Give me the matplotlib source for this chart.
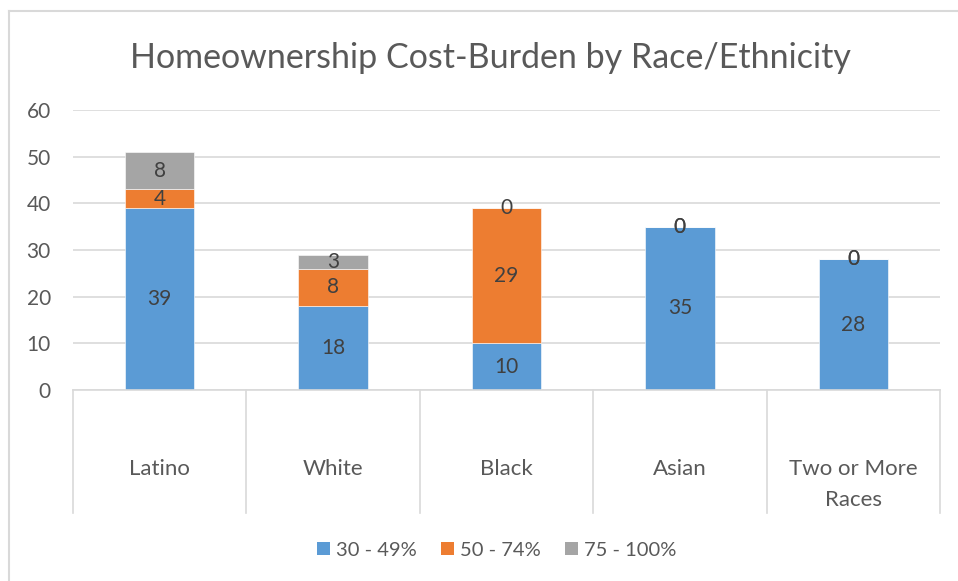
import matplotlib
matplotlib.use("Agg")
import matplotlib.pyplot as plt
from matplotlib.patches import Patch
from matplotlib.lines import Line2D
import matplotlib.transforms as mtransforms

categories = ["Latino", "White", "Black", "Asian", "Two or More\nRaces"]
series_names = ["30 - 49%", "50 - 74%", "75 - 100%"]
s_30_49 = [39, 18, 10, 35, 28]
s_50_74 = [4, 8, 29, 0, 0]
s_75_100 = [8, 3, 0, 0, 0]
yticks = [0, 10, 20, 30, 40, 50, 60]

colors = ["#5B9BD5", "#ED7D31", "#A5A5A5"]
txt = "#595959"
grid = "#D9D9D9"
plt.rcParams['font.family'] = ['Lato', 'DejaVu Sans']

W, H = 958, 581
fig = plt.figure(figsize=(W / 100, H / 100), dpi=100)
L, R, T, B = 73, 940, 110, 390
ax = fig.add_axes([L / W, 1 - B / H, (R - L) / W, (B - T) / H])

x = list(range(len(categories)))
bottom = [0] * len(categories)
for vals, col in zip([s_30_49, s_50_74, s_75_100], colors):
    ax.bar(x, vals, width=0.4, bottom=bottom, color=col, edgecolor="white",
           linewidth=0.4, zorder=3)
    for xi, v, b in zip(x, vals, bottom):
        ax.text(xi, b + v / 2, str(v), ha="center", va="center", fontsize=15,
                color="#404040", zorder=5)
    bottom = [b + v for b, v in zip(bottom, vals)]

ax.set_xlim(-0.5, len(categories) - 0.5)
ax.set_ylim(0, 60)
ax.set_yticks(yticks)
ax.set_yticklabels([str(t) for t in yticks], fontsize=15, color=txt)
ax.tick_params(axis="y", length=0, pad=16)
ax.set_xticks([])
for s in ax.spines.values():
    s.set_visible(False)
ax.yaxis.grid(True, color=grid, linewidth=1.2, zorder=0)
ax.set_axisbelow(True)

# category axis with dividers
trans = mtransforms.blended_transform_factory(ax.transData, ax.transAxes)
ybot = (B - 513) / (B - T)
ax.plot([-0.5, len(categories) - 0.5], [0, 0], transform=trans, color=grid,
        lw=1.2, clip_on=False, zorder=4)
for xb in [i - 0.5 for i in range(len(categories) + 1)]:
    ax.plot([xb, xb], [0, ybot], transform=trans, color=grid, lw=1.2, clip_on=False)
ylab = (B - 459) / (B - T)
for xi, c in zip(x, categories):
    ax.text(xi, ylab, c, transform=trans, ha="center", va="top", fontsize=16,
            color=txt, linespacing=1.7)

fig.text(490 / W, 1 - 58 / H, "Homeownership Cost-Burden by Race/Ethnicity",
         ha="center", va="center", fontsize=24.5, color=txt)

handles = [Patch(facecolor=c, edgecolor="none") for c in colors]
fig.legend(handles, series_names, loc="center", bbox_to_anchor=(497 / W, 1 - 550 / H),
           ncol=3, frameon=False, fontsize=14.5, handlelength=0.65, handleheight=0.65,
           handletextpad=0.3, columnspacing=1.2, labelcolor=txt)

# outer chart border (left and top edges visible)
fig.add_artist(Line2D([9 / W, 9 / W], [0, 1 - 11 / H], transform=fig.transFigure,
                      color=grid, lw=1.5))
fig.add_artist(Line2D([9 / W, 1], [1 - 11 / H, 1 - 11 / H], transform=fig.transFigure,
                      color=grid, lw=1.5))

fig.savefig("out.png", dpi=100)
